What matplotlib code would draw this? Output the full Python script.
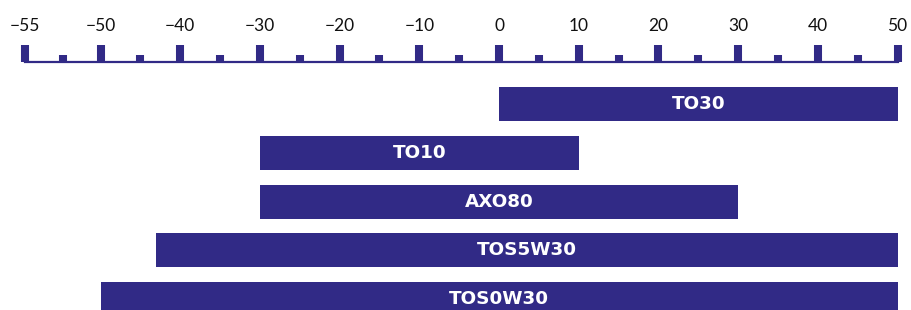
import numpy as np
import matplotlib
matplotlib.use("Agg")
import matplotlib.pyplot as plt
from matplotlib.ticker import FixedLocator, FixedFormatter

# Data: operating temperature ranges (°C)
products = ["TO30", "TO10", "AXO80", "TOS5W30", "TOS0W30"]
range_low = [0, -30, -30, -43, -50]
range_high = [50, 10, 30, 50, 50]

major_ticks = [-55, -50, -40, -30, -20, -10, 0, 10, 20, 30, 40, 50]
minor_ticks = [-52.5, -45, -35, -25, -15, -5, 5, 15, 25, 35, 45]
tick_labels = [str(t).replace("-", "\u2212") for t in major_ticks]

NAVY = "#312a86"


# the first interval (-55..-50) is stretched to about the width of a 10 degree step
def forward(x):
    x = np.asarray(x, dtype=float)
    return np.where(x < -50, -50 + 1.9 * (x + 50), x)


def inverse(y):
    y = np.asarray(y, dtype=float)
    return np.where(y < -50, -50 + (y + 50) / 1.9, y)


fig = plt.figure(figsize=(9.11, 3.10), dpi=100)
ax = fig.add_axes([0, 0, 1, 0.8])
ax.set_xscale("function", functions=(forward, inverse))

ypos = np.arange(len(products))
widths = np.array(range_high) - np.array(range_low)
ax.barh(ypos, widths, left=range_low, height=0.7, color=NAVY)

for y, lo, hi, name in zip(ypos, range_low, range_high, products):
    ax.text((lo + hi) / 2, y, name, ha="center", va="center", color="white",
            fontsize=13.2, fontweight="heavy", family=["DejaVu Sans"])

ax.set_xlim(-56.64, 51.69)
ax.set_ylim(4.221, -0.861)

for s in ["left", "right", "bottom"]:
    ax.spines[s].set_visible(False)
ax.spines["top"].set_color(NAVY)
ax.spines["top"].set_linewidth(1.6)
ax.spines["top"].set_bounds(-55, 50)

ax.xaxis.tick_top()
ax.xaxis.set_major_locator(FixedLocator(major_ticks))
ax.xaxis.set_major_formatter(FixedFormatter(tick_labels))
ax.xaxis.set_minor_locator(FixedLocator(minor_ticks))
ax.tick_params(axis="x", which="major", direction="out", length=12.2, width=5.8,
               color=NAVY, pad=8, labelsize=12.5, labelcolor="#111111")
ax.tick_params(axis="x", which="minor", direction="out", length=5.0, width=5.8,
               color=NAVY)
ax.set_yticks([])
for lab in ax.get_xticklabels():
    lab.set_family("Lato")

fig.savefig("out.png", dpi=100)
